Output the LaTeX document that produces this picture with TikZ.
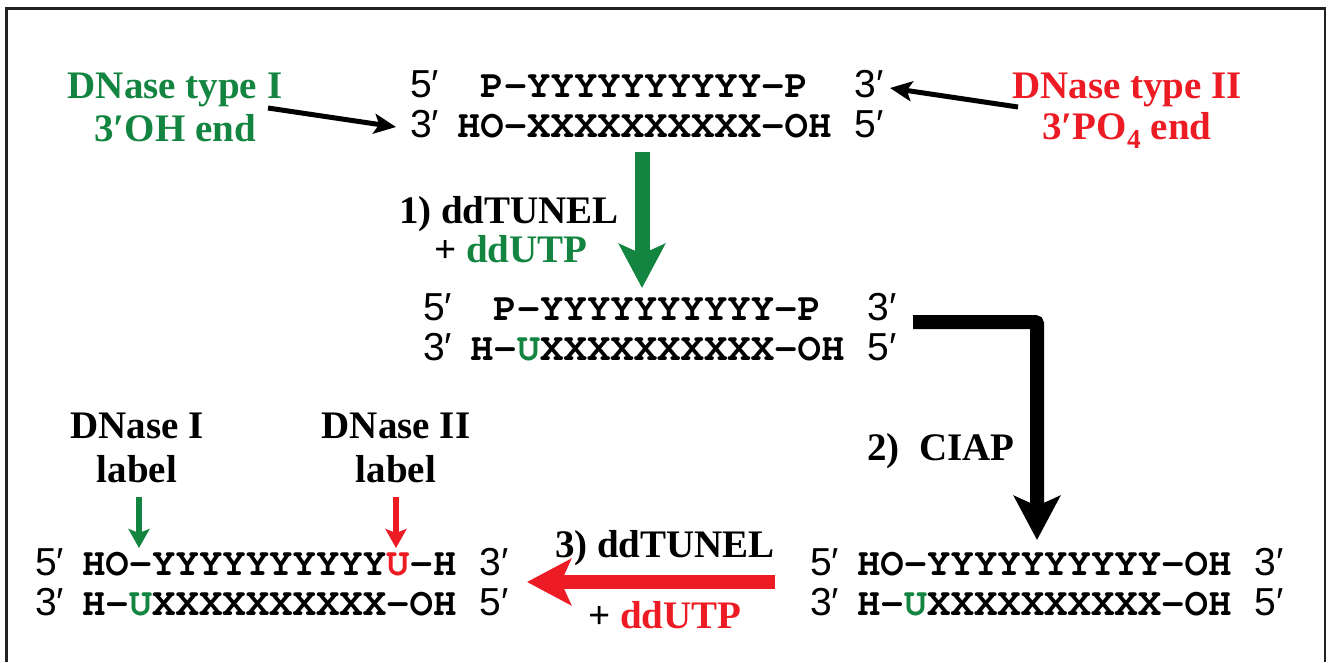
\documentclass[tikz,border=0pt]{standalone}
\usepackage{fontspec}
\setmainfont{Liberation Serif}
\newfontfamily\sansf{Liberation Sans}
\usetikzlibrary{arrows.meta}
\definecolor{dgreen}{HTML}{138540}
\definecolor{dred}{HTML}{ED1C24}
\definecolor{frame}{HTML}{222222}
\newcommand\seqfont{\fontencoding{T1}\fontfamily{pcr}\fontseries{b}\fontshape{n}\fontsize{39}{44}\selectfont}
\newcommand\ep[1]{\makebox[46.8pt][l]{\sansf\mdseries #1′}}
\newcommand\gp{\hphantom{X}}
\newcommand\gU{\textcolor{dgreen}{U}}
\newcommand\rU{\textcolor{dred}{U}}
\begin{document}
\begin{tikzpicture}[x=1pt,y=-1pt,
  seq/.style={anchor=base west, inner sep=0pt, font=\seqfont},
  lab/.style={anchor=base, inner sep=0pt, font=\bfseries\fontsize{39}{44}\selectfont},
  thinarrow/.style={line width=5pt, -{Stealth[length=22pt,width=20pt,inset=5pt]}},
  smallarrow/.style={line width=6pt, -{Stealth[length=19pt,width=21pt,inset=4pt]}},
  bigarrow/.style={line width=15pt, -{Stealth[length=44pt,width=46pt,inset=10pt]}}]
\useasboundingbox (0,0) rectangle (1332,662);
\draw[line width=2.5pt, frame] (6.5,662) -- (6.5,8.5) -- (1325,8.5) -- (1325,662);

% top labels
\node[lab, text=dgreen] (d1a) at (175,98) {DNase type I};
\node[lab, text=dgreen] (d1b) at (175,141) {3′OH end};
\node[lab, text=dred] (d2a) at (1127,98) {DNase type II};
\node[lab, text=dred] (d2b) at (1127,139) {3′PO\textsubscript{4} end};

% strands
\node[seq] (t1) at (410,97) {\ep{5}\gp P-YYYYYYYYYY-P\gp\gp\ep{3}};
\node[seq] (t2) at (410,137) {\ep{3}HO-XXXXXXXXXX-OH\gp\ep{5}};
\node[seq] (m1) at (423,320) {\ep{5}\gp P-YYYYYYYYYY-P\gp\gp\ep{3}};
\node[seq] (m2) at (423,360) {\ep{3}H-\gU XXXXXXXXXX-OH\gp\ep{5}};
\node[seq] (r1) at (810,575) {\ep{5}HO-YYYYYYYYYY-OH\gp\ep{3}};
\node[seq] (r2) at (810,615) {\ep{3}H-\gU XXXXXXXXXX-OH\gp\ep{5}};
\node[seq] (l1) at (35,575) {\ep{5}HO-YYYYYYYYYY\rU-H\gp\ep{3}};
\node[seq] (l2) at (35,615) {\ep{3}H-\gU XXXXXXXXXX-OH\gp\ep{5}};

% step labels
\node[lab] (s1a) at (509,223) {1) ddTUNEL};
\node[lab] (s1b) at (511,262) {+ \textcolor{dgreen}{ddUTP}};
\node[lab] (s2) at (941,460) {2)\ \ CIAP};
\node[lab] (s3a) at (665,557) {3) ddTUNEL};
\node[lab] (s3b) at (665,628) {+ \textcolor{dred}{ddUTP}};
\node[lab] (n1a) at (137,438) {DNase I};
\node[lab] (n1b) at (137,482) {label};
\node[lab] (n2a) at (396,438) {DNase II};
\node[lab] (n2b) at (396,482) {label};

% connector end points
\coordinate (a1s) at (268,108);
\coordinate (a1e) at (396,127);
\coordinate (a2s) at (1018,107);
\coordinate (a2e) at (890,88);
\coordinate (g1s) at (642,152);
\coordinate (g1e) at (642,288);
\coordinate (b1s) at (913,322);
\coordinate (b1e) at (1037,540);
\coordinate (r1s) at (775,582);
\coordinate (r1e) at (527,582);
\coordinate (p1s) at (139,497);
\coordinate (p1e) at (139,548);
\coordinate (p2s) at (396,497);
\coordinate (p2e) at (396,548);

\draw[thinarrow] (a1s) -- (a1e);
\draw[thinarrow] (a2s) -- (a2e);
\draw[bigarrow, dgreen] (g1s) -- (g1e);
\draw[bigarrow, black, line width=14pt, rounded corners=2pt] (b1s) -| (b1e);
\draw[bigarrow, dred, line width=14pt] (r1s) -- (r1e);
\draw[smallarrow, dgreen] (p1s) -- (p1e);
\draw[smallarrow, dred] (p2s) -- (p2e);
\end{tikzpicture}
\end{document}
